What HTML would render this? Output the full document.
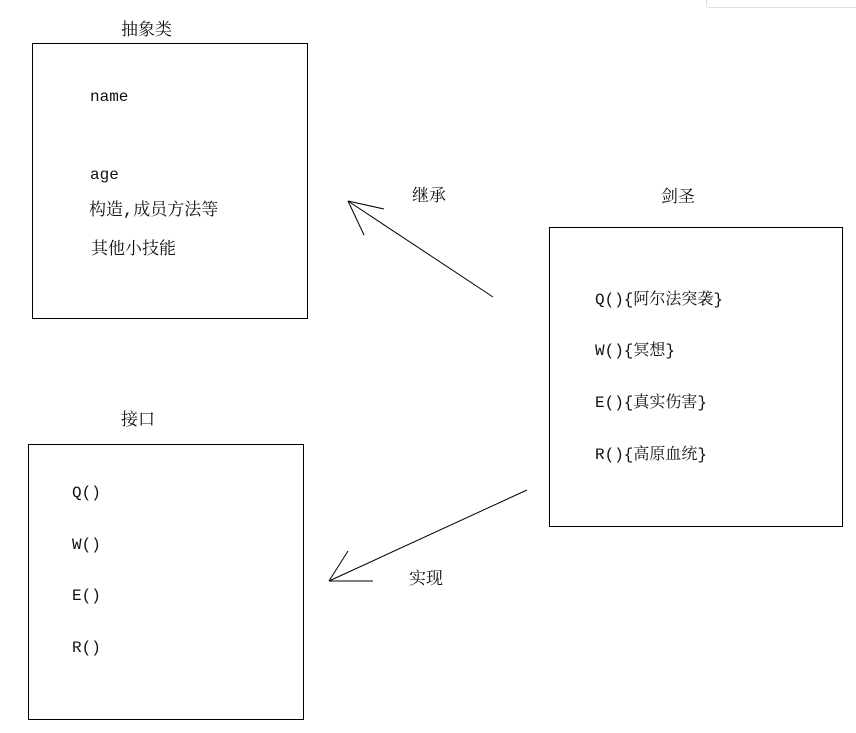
<!DOCTYPE html>
<html><head><meta charset="utf-8"><style>
body{margin:0;width:856px;height:733px;background:#fff;position:relative;overflow:hidden;font-family:"Liberation Mono","Noto Serif CJK SC",monospace;font-size:16px;color:#111}
.t{position:absolute;line-height:20px;white-space:nowrap}
.c{font-size:17px}
.b{position:absolute;border:1px solid #000;box-sizing:border-box}
</style></head><body>
<div style="position:absolute;left:706px;top:-2px;width:160px;height:8px;border:1px solid #e0e0e0;border-radius:3px"></div>
<div class="b" style="left:32px;top:43px;width:276px;height:276px"></div>
<div class="b" style="left:549px;top:227px;width:294px;height:300px"></div>
<div class="b" style="left:28px;top:444px;width:276px;height:276px"></div>
<svg style="position:absolute;left:0;top:0" width="856" height="733">
<g stroke="#000" stroke-width="1" fill="none">
<line x1="493" y1="297" x2="348" y2="201"/><line x1="348" y1="201" x2="384" y2="209"/><line x1="348" y1="201" x2="364" y2="235"/>
<line x1="527" y1="490" x2="329" y2="581"/><line x1="329" y1="581" x2="348" y2="551"/><line x1="329" y1="581" x2="373" y2="581"/>
</g></svg>
<div class="t c" style="left:121px;top:22px">抽象类</div>
<div class="t" style="left:90px;top:87px">name</div>
<div class="t" style="left:90px;top:165px">age</div>
<div class="t c" style="left:89px;top:202px">构造,成员方法等</div>
<div class="t c" style="left:91px;top:241px">其他小技能</div>
<div class="t c" style="left:412px;top:188px">继承</div>
<div class="t c" style="left:661px;top:189px">剑圣</div>
<div class="t" style="left:595px;top:290px">Q(){阿尔法突袭}</div>
<div class="t" style="left:595px;top:341px">W(){冥想}</div>
<div class="t" style="left:595px;top:393px">E(){真实伤害}</div>
<div class="t" style="left:595px;top:445px">R(){高原血统}</div>
<div class="t c" style="left:121px;top:412px">接口</div>
<div class="t" style="left:72px;top:483px">Q()</div>
<div class="t" style="left:72px;top:535px">W()</div>
<div class="t" style="left:72px;top:586px">E()</div>
<div class="t" style="left:72px;top:638px">R()</div>
<div class="t c" style="left:409px;top:571px">实现</div>
</body></html>
